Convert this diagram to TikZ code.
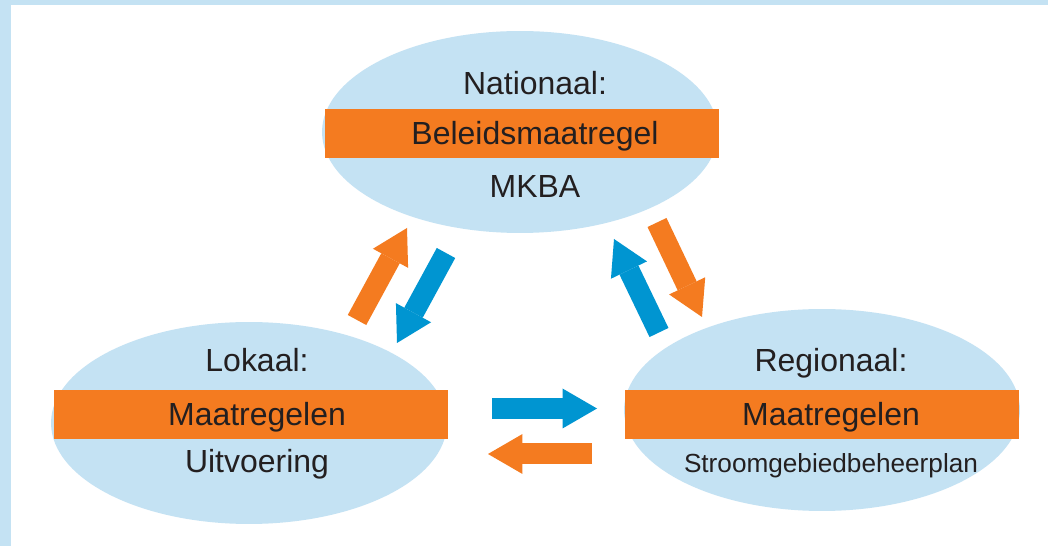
\documentclass[tikz,border=0pt]{standalone}
\usepackage{fontspec}
\setmainfont{Liberation Sans}
\usetikzlibrary{shapes.geometric,arrows.meta}

\definecolor{skyfill}{RGB}{196,226,243}
\definecolor{bandorange}{RGB}{244,123,32}
\definecolor{flowblue}{RGB}{0,149,209}
\definecolor{inkgray}{RGB}{35,31,32}

\tikzset{
  tier/.style={ellipse, fill=skyfill, minimum width=7.92cm, minimum height=4.04cm, inner sep=0pt},
  band/.style={fill=bandorange, minimum width=7.88cm, minimum height=0.98cm, inner sep=0pt},
  caption/.style={anchor=base, inner sep=0pt, text=inkgray, font=\fontsize{18.2}{20}\selectfont},
  smallcaption/.style={caption, font=\fontsize{14.9}{17}\selectfont},
  flow/.style={line width=0.42cm, -{Triangle[width=0.8cm,length=0.69cm,line width=0pt]}},
}

\begin{document}
\begin{tikzpicture}[x=0.02cm, y=-0.02cm]
\def\nx{535}
\def\lx{257}
\def\rx{831}
\useasboundingbox (0,0) rectangle (1048,546);
\fill[white] (0,0) rectangle (1048,546);
\fill[skyfill] (0,0) rectangle (11,546);
\fill[skyfill] (0,0) rectangle (1048,5);

% levels
\node[tier] (nat) at (520,132) {};
\node[tier] (lok) at (249,423) {};
\node[tier] (reg) at (822,410) {};

\node[band] (natband) at (522,133.5) {};
\node[band] (lokband) at (251,414.5) {};
\node[band] (regband) at (822,414.5) {};

\node[caption] (nattitle) at (\nx,95) {Nationaal:};
\node[caption] (natmid) at (\nx,145) {Beleidsmaatregel};
\node[caption] (natlow) at (\nx,198) {MKBA};

\node[caption] (loktitle) at (\lx,372) {Lokaal:};
\node[caption] (lokmid) at (\lx,426) {Maatregelen};
\node[caption] (loklow) at (\lx,473) {Uitvoering};

\node[caption] (regtitle) at (\rx,372) {Regionaal:};
\node[caption] (regmid) at (\rx,426) {Maatregelen};
\node[smallcaption] (reglow) at (\rx,473) {Stroomgebiedbeheerplan};

% arrows
\coordinate (lnA) at (357,320);
\coordinate (lnB) at (407,228);
\coordinate (nlA) at (446,253);
\coordinate (nlB) at (397,343);
\coordinate (rnA) at (659,332.5);
\coordinate (rnB) at (614,239);
\coordinate (nrA) at (657,222.5);
\coordinate (nrB) at (702,317);
\coordinate (lrA) at (492,408.5);
\coordinate (lrB) at (597,408.5);
\coordinate (rlA) at (592,454);
\coordinate (rlB) at (488,454);

\draw[flow, bandorange] (lnA) -- (lnB);
\draw[flow, flowblue] (nlA) -- (nlB);
\draw[flow, flowblue] (rnA) -- (rnB);
\draw[flow, bandorange] (nrA) -- (nrB);
\draw[flow, flowblue] (lrA) -- (lrB);
\draw[flow, bandorange] (rlA) -- (rlB);
\end{tikzpicture}
\end{document}
